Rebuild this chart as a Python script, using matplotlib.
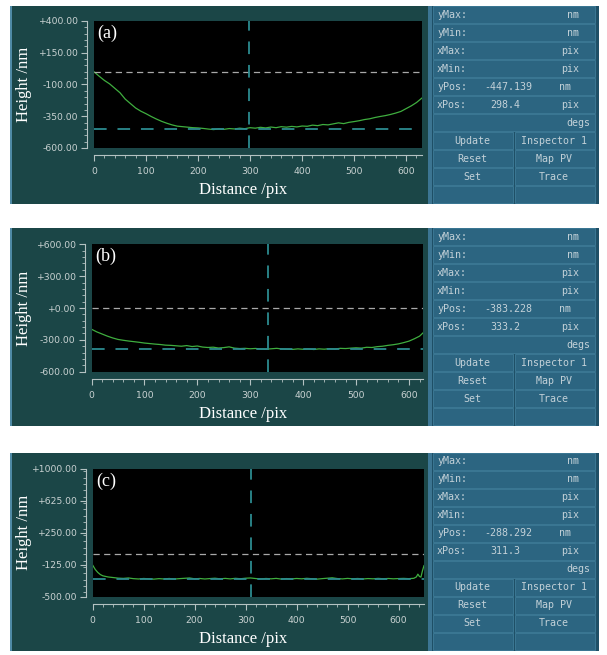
#--------------------------------------------------------------------------------
# Height profiles (a), (b), (c) with the inspector side panel
#--------------------------------------------------------------------------------

import matplotlib
matplotlib.use("Agg")
import matplotlib.pyplot as plt
from matplotlib.patches import Rectangle
from matplotlib.ticker import MultipleLocator

############## Data ##############################################################

xa = [0, 10, 20, 30, 40, 50, 60, 70, 80, 90, 100, 110, 120, 130, 140, 150, 160, 170, 180, 190,
      200, 210, 220, 230, 240, 250, 260, 270, 280, 290, 300, 310, 320, 330, 340, 350, 360, 370,
      380, 390, 400, 410, 420, 430, 440, 450, 460, 470, 480, 490, 500, 510, 520, 530, 540, 550,
      560, 570, 580, 590, 600, 610, 620, 630]
ya = [0, -35, -68, -95, -130, -165, -215, -250, -285, -310, -330, -352, -372, -390, -405, -418,
      -428, -432, -436, -440, -442, -446, -451, -455, -449, -453, -447, -450, -444, -448, -440,
      -444, -437, -442, -435, -440, -432, -436, -430, -434, -427, -429, -420, -424, -415, -418,
      -410, -402, -408, -398, -392, -385, -376, -370, -360, -352, -345, -336, -325, -312, -290,
      -268, -242, -208]

xb = [0, 10, 20, 30, 40, 50, 60, 70, 80, 90, 100, 110, 120, 130, 140, 150, 160, 170, 180, 190,
      200, 210, 220, 230, 240, 250, 260, 270, 280, 290, 300, 310, 320, 330, 340, 350, 360, 370,
      380, 390, 400, 410, 420, 430, 440, 450, 460, 470, 480, 490, 500, 510, 520, 530, 540, 550,
      560, 570, 580, 590, 600, 610, 620, 627]
yb = [-200, -225, -245, -265, -282, -296, -304, -311, -317, -323, -330, -335, -340, -344, -350,
      -352, -356, -360, -354, -363, -358, -368, -372, -369, -377, -373, -366, -378, -382, -380,
      -384, -381, -386, -388, -384, -380, -386, -388, -390, -385, -389, -386, -391, -385, -388,
      -383, -386, -380, -382, -378, -375, -378, -370, -372, -364, -360, -352, -346, -338, -326,
      -312, -290, -265, -232]

xc = [0, 5, 10, 15, 20, 30, 40, 50, 60, 70, 80, 90, 100, 110, 120, 130, 140, 150, 160, 170,
      180, 190, 200, 210, 220, 230, 240, 250, 260, 270, 280, 290, 300, 310, 320, 330, 340, 350,
      360, 370, 380, 390, 400, 410, 420, 430, 440, 450, 460, 470, 480, 490, 500, 510, 520, 530,
      540, 550, 560, 570, 580, 590, 600, 610, 620, 630, 635, 638, 641, 644, 647, 650]
yc = [-130, -180, -215, -240, -255, -268, -275, -282, -285, -280, -288, -292, -286, -290, -294,
      -288, -292, -286, -293, -288, -284, -280, -290, -286, -292, -287, -283, -290, -285, -291,
      -284, -289, -283, -280, -287, -291, -286, -290, -285, -293, -287, -291, -286, -290, -284,
      -289, -294, -288, -283, -278, -287, -291, -285, -290, -286, -292, -287, -290, -285, -289,
      -286, -290, -287, -285, -288, -284, -268, -235, -262, -270, -195, -135]

yticks_a = [-600, -350, -100, 150, 400]
yticks_b = [-600, -300, 0, 300, 600]
yticks_c = [-500, -125, 250, 625, 1000]
xticks = [0, 100, 200, 300, 400, 500, 600]

ypos_vals = [-447.139, -383.228, -288.292]
xpos_vals = [298.4, 333.2, 311.3]

row_names = ["yMax:", "yMin:", "xMax:", "xMin:", "yPos:", "xPos:", ""]
row_units = ["nm", "nm", "pix", "pix", "nm", "pix", "degs"]
buttons_left = ["Update", "Reset", "Set", ""]
buttons_right = ["Inspector 1", "Map PV", "Trace", ""]

############## Figure ############################################################

W, H = 607, 655
fig = plt.figure(figsize=(W / 100, H / 100), dpi=100)
fig.patch.set_facecolor("white")

bg = fig.add_axes([0, 0, 1, 1])
bg.set_xlim(0, W)
bg.set_ylim(H, 0)
bg.axis("off")

def rect(x0, y0, x1, y1, **kw):
    bg.add_patch(Rectangle((x0, y0), x1 - x0, y1 - y0, **kw))

teal = "#1b4647"
axis_col = "#b4c2c2"
lab_col = "#c9d2d2"
green = "#3fae3f"
dash_teal = "#2c8b90"
mono = "DejaVu Sans Mono"
serif = "Liberation Serif"

panels = [
    dict(tag="(a)", x=xa, y=ya, ylim=(-600, 400), yticks=yticks_a, yminor=50, xmax=630,
         top=6, box=(94, 21, 421.7, 148)),
    dict(tag="(b)", x=xb, y=yb, ylim=(-600, 600), yticks=yticks_b, yminor=60, xmax=627,
         top=228, box=(91.5, 244.3, 423.3, 371.7)),
    dict(tag="(c)", x=xc, y=yc, ylim=(-500, 1000), yticks=yticks_c, yminor=75, xmax=650,
         top=453, box=(92.7, 469, 424, 596.7)),
]

for i, p in enumerate(panels):
    top = p["top"]
    bot = top + 198
    # background of the panel
    rect(10, top, 428, bot, facecolor=teal, edgecolor="none")
    rect(10, top, 12, bot, facecolor="#4f8aa6", edgecolor="none")
    # side panel
    rect(428, top, 599, bot, facecolor="#1e4f66", edgecolor="none")
    rect(428, top, 432, bot, facecolor="#3c7592", edgecolor="none")
    for r in range(11):
        ry = top + r * 18
        rh = min(16.5, bot - ry)
        if r < 7:
            rect(433, ry, 595, ry + rh, facecolor="#2c6581", edgecolor="#3f7c99", lw=0.6)
            cy = ry + 8.5
            bg.text(437, cy, row_names[r], family=mono, fontsize=7.2, color="#c3d1d8",
                    va="center", ha="left")
            ux = 590 if r == 6 else (571 if r == 4 else 579)
            bg.text(ux, cy, row_units[r], family=mono, fontsize=7.2, color="#c3d1d8",
                    va="center", ha="right")
            if r == 4:
                bg.text(484.5, cy, "%.3f" % ypos_vals[i], family=mono, fontsize=7.2,
                        color="#c3d1d8", va="center", ha="left")
            if r == 5:
                bg.text(490.5, cy, "%.1f" % xpos_vals[i], family=mono, fontsize=7.2,
                        color="#c3d1d8", va="center", ha="left")
        else:
            b = r - 7
            rect(433, ry, 513, ry + rh, facecolor="#2c6581", edgecolor="#3f7c99", lw=0.6)
            rect(515, ry, 595, ry + rh, facecolor="#2c6581", edgecolor="#3f7c99", lw=0.6)
            cy = ry + 8.5
            bg.text(472, cy, buttons_left[b], family=mono, fontsize=7.2, color="#c3d1d8",
                    va="center", ha="center")
            bg.text(554, cy, buttons_right[b], family=mono, fontsize=7.2, color="#c3d1d8",
                    va="center", ha="center")

    # plot area
    l, t, r_, b_ = p["box"]
    ax = fig.add_axes([l / W, 1 - b_ / H, (r_ - l) / W, (b_ - t) / H])
    ax.set_facecolor("black")
    ax.plot(p["x"], p["y"], color=green, lw=0.9)
    ax.axhline(0, color="#a9a9a9", lw=0.9, dashes=(5, 3.5))
    ax.axhline(ypos_vals[i], color=dash_teal, lw=1.3, dashes=(7, 6))
    ax.axvline(xpos_vals[i], color=dash_teal, lw=1.3, dashes=(7, 6))
    ax.set_xlim(0, p["xmax"])
    ax.set_ylim(*p["ylim"])

    for s in ["top", "right"]:
        ax.spines[s].set_visible(False)
    for s in ["left", "bottom"]:
        ax.spines[s].set_position(("outward", 5))
        ax.spines[s].set_color(axis_col)
        ax.spines[s].set_linewidth(0.8)

    ax.set_xticks(xticks)
    ax.set_xticklabels([str(v) for v in xticks])
    ax.xaxis.set_minor_locator(MultipleLocator(20))
    ax.set_yticks(p["yticks"])
    ax.set_yticklabels(["%+.2f" % v for v in p["yticks"]])
    ax.yaxis.set_minor_locator(MultipleLocator(p["yminor"]))
    ax.tick_params(which="both", direction="out", colors=axis_col, labelcolor=lab_col,
                   labelsize=6.7)
    ax.tick_params(which="major", length=4, width=0.8)
    ax.tick_params(which="minor", length=2, width=0.6)
    ax.tick_params(axis="y", pad=2.5)
    ax.tick_params(axis="x", pad=5)

    ax.text(0.01, 0.97, p["tag"], transform=ax.transAxes, family=serif, fontsize=13,
            color="white", va="top", ha="left")

    fig.text(243 / W, 1 - (b_ + 42) / H, "Distance /pix", family=serif, fontsize=12,
             color="white", ha="center", va="center")
    fig.text(24 / W, 1 - ((t + b_) / 2) / H, "Height /nm", family=serif, fontsize=12,
             color="white", ha="center", va="center", rotation=90)

fig.savefig("out.png", dpi=100, facecolor="white")
